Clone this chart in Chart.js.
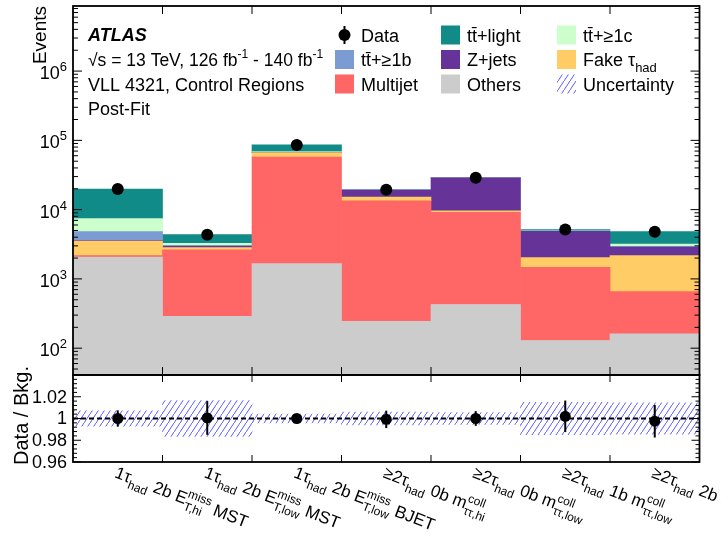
<!DOCTYPE html>
<html>
<head>
<meta charset="utf-8">
<script src="https://cdn.jsdelivr.net/npm/chart.js@4.4.1/dist/chart.umd.min.js"></script>
<style>
html, body { margin: 0; padding: 0; background: #fff; }
#wrap { position: relative; width: 721px; height: 536px; }
#wrap canvas { position: absolute; left: 0; top: 0; }
</style>
</head>
<body>
<div id="wrap">
<canvas id="mainChart" width="721" height="536"></canvas>
<canvas id="ratioChart" width="721" height="536"></canvas>
</div>
<script>
// control regions (bins)
const regions = [
	"1τ_{had} 2b E^{miss}_{T,hi} MST",
	"1τ_{had} 2b E^{miss}_{T,low} MST",
	"1τ_{had} 2b E^{miss}_{T,low} BJET",
	"≥2τ_{had} 0b m^{coll}_{ττ,hi}",
	"≥2τ_{had} 0b m^{coll}_{ττ,low}",
	"≥2τ_{had} 1b m^{coll}_{ττ,low}",
	"≥2τ_{had} 2b m^{coll}_{ττ,low}",
]

// post-fit background yields, bottom of the stack first
const others = [2060, 289, 1660, 245, 427, 129, 161]
const multijet = [110, 2350, 55600, 13150, 8700, 1340, 495]
const fakeTau = [1340, 190, 9400, 1800, 510, 560, 1510]
const zJets = [50, 120, 500, 4000, 19100, 2820, 720]
const ttB = [1250, 100, 800, 60, 40, 40, 60]
const ttC = [2590, 210, 800, 80, 40, 60, 240]
const ttLight = [12400, 1090, 17100, 100, 80, 220, 1620]

// data
const dataEvents = [19800, 4350, 85900, 19400, 28900, 5180, 4790]

// ratio panel
const ratioData = [1.0, 1.0005, 1.0, 0.9992, 1.0, 1.002, 0.9975]
const ratioErr = [0.0075, 0.0155, 0.002, 0.008, 0.0068, 0.0145, 0.015]
const bandErr = [0.007, 0.0165, 0.004, 0.006, 0.0055, 0.0148, 0.0145]

// axis ticks
const logExponents = [2, 3, 4, 5, 6]
const ratioTicks = [0.96, 0.98, 1, 1.02]
const ratioTickLabels = ["0.96", "0.98", "1", "1.02"]

const FONT = '"Liberation Sans", Arial, Helvetica, sans-serif'
Chart.defaults.font.family = FONT

// ---- little helpers for ROOT-like text with ^{} and _{} ----
function richTokens(s) {
	const out = []
	let buf = ""
	let i = 0
	while (i < s.length) {
		const c = s[i]
		if ((c === "^" || c === "_") && s[i + 1] === "{") {
			const end = s.indexOf("}", i)
			const tok = { t: s.slice(i + 2, end), m: c === "^" ? "sup" : "sub" }
			const prev = out[out.length - 1]
			if (!buf && prev && prev.m !== "n" && prev.m !== tok.m && !prev.pair) {
				prev.pair = tok
			} else {
				if (buf) {
					out.push({ t: buf, m: "n" })
					buf = ""
				}
				out.push(tok)
			}
			i = end + 1
		} else {
			buf += c
			i++
		}
	}
	if (buf) out.push({ t: buf, m: "n" })
	return out
}

function drawRich(ctx, s, x, y, size, style) {
	style = style || ""
	const small = Math.round(size * 0.7)
	let cx = x
	ctx.textAlign = "left"
	ctx.textBaseline = "alphabetic"
	for (const tk of richTokens(s)) {
		if (tk.m === "n") {
			ctx.font = `${style} ${size}px ${FONT}`
			ctx.fillText(tk.t, cx, y)
			cx += ctx.measureText(tk.t).width
		} else {
			ctx.font = `${style} ${small}px ${FONT}`
			let w = 0
			const parts = tk.pair ? [tk, tk.pair] : [tk]
			for (const p of parts) {
				const dy = p.m === "sup" ? -size * 0.45 : size * 0.33
				ctx.fillText(p.t, cx, y + dy)
				w = Math.max(w, ctx.measureText(p.t).width)
			}
			cx += w
		}
	}
	return cx - x
}

function makeHatch(canvas) {
	const c = document.createElement("canvas")
	c.width = 6
	c.height = 9
	const g = c.getContext("2d")
	g.strokeStyle = "#5a5aff"
	g.lineWidth = 1
	g.beginPath()
	g.moveTo(-1, 10.5)
	g.lineTo(7, -1.5)
	g.stroke()
	return canvas.getContext("2d").createPattern(c, "repeat")
}

function seg(ctx, x1, y1, x2, y2) {
	ctx.beginPath()
	ctx.moveTo(x1, y1)
	ctx.lineTo(x2, y2)
	ctx.stroke()
}

// bin edge ticks on top and bottom of a panel
function binEdgeTicks(ctx, x, a, len) {
	for (let i = 1; i < regions.length; i++) {
		const px = x.getPixelForValue(i - 0.5)
		seg(ctx, px, a.bottom, px, a.bottom - len)
		seg(ctx, px, a.top, px, a.top + len)
	}
}

const mainCanvas = document.getElementById("mainChart")
const ratioCanvas = document.getElementById("ratioChart")
const mainHatch = makeHatch(mainCanvas)
const ratioHatch = makeHatch(ratioCanvas)

// ---- main panel decorations: frame, ticks, labels, legend ----
const mainDecor = {
	id: "mainDecor",
	afterDraw(chart) {
		const { ctx, chartArea: a, scales: { x, y } } = chart
		ctx.save()
		ctx.strokeStyle = "#000"
		ctx.fillStyle = "#000"
		ctx.lineWidth = 1

		// log ticks, both sides
		for (let e = 1; e <= 7; e++) {
			for (let k = 1; k <= 9; k++) {
				const v = k * Math.pow(10, e)
				if (v < y.min || v > y.max) continue
				const py = y.getPixelForValue(v)
				const len = k === 1 ? 9 : 5
				seg(ctx, a.left, py, a.left + len, py)
				seg(ctx, a.right, py, a.right - len, py)
			}
		}
		binEdgeTicks(ctx, x, a, 8)

		ctx.lineWidth = 1.8
		ctx.strokeRect(a.left, a.top, a.right - a.left, a.bottom - a.top)

		// y tick labels 10^n
		logExponents.forEach(e => {
			const py = y.getPixelForValue(Math.pow(10, e))
			ctx.font = `18px ${FONT}`
			const w10 = ctx.measureText("10").width
			ctx.font = `13px ${FONT}`
			const we = ctx.measureText(String(e)).width
			const x0 = a.left - 6 - we - w10
			drawRich(ctx, `10^{${e}}`, x0, py + 8, 18)
		})

		// axis title
		ctx.save()
		ctx.translate(46, a.top)
		ctx.rotate(-Math.PI / 2)
		ctx.font = `19px ${FONT}`
		ctx.textAlign = "right"
		ctx.fillText("Events", 0, 0)
		ctx.restore()

		// ATLAS label block
		ctx.font = `italic bold 18px ${FONT}`
		ctx.textAlign = "left"
		ctx.fillText("ATLAS", 88, 41)
		drawRich(ctx, "√s = 13 TeV, 126 fb^{-1} - 140 fb^{-1}", 88, 66, 17.5)
		drawRich(ctx, "VLL 4321, Control Regions", 88, 90.5, 18)
		drawRich(ctx, "Post-Fit", 88, 115, 18)

		// legend: 3 columns x 3 rows
		const ds = chart.data.datasets
		const byLabel = l => ds.find(d => d.label === l)
		const grid = [
			["Data", "tt̄+light", "tt̄+≥1c"],
			["tt̄+≥1b", "Z+jets", "Fake τ_{had}"],
			["Multijet", "Others", "Uncertainty"],
		]
		const colX = [335, 441, 557]
		const rowY = [35, 59.5, 84]
		const box = 19
		grid.forEach((row, r) => {
			row.forEach((lab, c) => {
				const bx = colX[c]
				const cy = rowY[r]
				if (lab === "Data") {
					ctx.lineWidth = 2
					seg(ctx, bx + box / 2, cy - 9, bx + box / 2, cy + 9)
					ctx.beginPath()
					ctx.arc(bx + box / 2, cy, 6, 0, Math.PI * 2)
					ctx.fill()
				} else if (lab === "Uncertainty") {
					ctx.fillStyle = mainHatch
					ctx.fillRect(bx, cy - box / 2, box, box)
					ctx.fillStyle = "#000"
				} else {
					ctx.fillStyle = byLabel(lab).backgroundColor
					ctx.fillRect(bx, cy - box / 2, box, box)
					ctx.fillStyle = "#000"
				}
				drawRich(ctx, lab, bx + box + 7, cy + 6.5, 18)
			})
		})
		ctx.restore()
	},
}

const mainChart = new Chart(mainCanvas, {
	type: "bar",
	data: {
		labels: regions,
		datasets: [
			{
				type: "line",
				label: "Data",
				data: dataEvents,
				showLine: false,
				pointRadius: 6,
				pointBackgroundColor: "#000",
				pointBorderWidth: 0,
				stack: "data",
			},
			{ label: "Others", data: others, backgroundColor: "#cccccc", stack: "bkg" },
			{ label: "Multijet", data: multijet, backgroundColor: "#ff6666", stack: "bkg" },
			{ label: "Fake τ_{had}", data: fakeTau, backgroundColor: "#ffcc66", stack: "bkg" },
			{ label: "Z+jets", data: zJets, backgroundColor: "#663399", stack: "bkg" },
			{ label: "tt̄+≥1b", data: ttB, backgroundColor: "#7b9bd2", stack: "bkg" },
			{ label: "tt̄+≥1c", data: ttC, backgroundColor: "#ccffcc", stack: "bkg" },
			{ label: "tt̄+light", data: ttLight, backgroundColor: "#118b87", stack: "bkg" },
		],
	},
	options: {
		responsive: false,
		animation: false,
		events: [],
		layout: { padding: { left: 73, right: 21.5, top: 5, bottom: 161 } },
		datasets: { bar: { barPercentage: 1, categoryPercentage: 1, borderWidth: 0 } },
		plugins: { legend: { display: false }, tooltip: { enabled: false } },
		scales: {
			x: { display: false, stacked: true, offset: true },
			y: { type: "logarithmic", display: false, stacked: true, min: 41, max: 8.7e6 },
		},
	},
	plugins: [mainDecor],
})

// ---- ratio panel ----
const ratioDecor = {
	id: "ratioDecor",
	beforeDatasetDraw(chart, args) {
		if (args.index !== 0) return
		const { ctx, chartArea: a, scales: { x, y } } = chart
		ctx.save()
		ctx.strokeStyle = "#000"
		ctx.lineWidth = 2
		ctx.setLineDash([5, 3])
		const p1 = y.getPixelForValue(1)
		seg(ctx, a.left, p1, a.right, p1)
		ctx.setLineDash([])
		ratioData.forEach((v, i) => {
			const px = x.getPixelForValue(i)
			seg(ctx, px, y.getPixelForValue(v - ratioErr[i]), px, y.getPixelForValue(v + ratioErr[i]))
		})
		ctx.restore()
	},
	afterDraw(chart) {
		const { ctx, chartArea: a, scales: { x, y } } = chart
		ctx.save()
		ctx.strokeStyle = "#000"
		ctx.fillStyle = "#000"
		ctx.lineWidth = 1
		for (let k = 0; k <= 20; k++) {
			const v = 0.96 + k * 0.004
			const py = y.getPixelForValue(v)
			const len = k % 5 === 0 ? 8 : 4
			seg(ctx, a.left, py, a.left + len, py)
			seg(ctx, a.right, py, a.right - len, py)
		}
		binEdgeTicks(ctx, x, a, 7)
		ctx.lineWidth = 1.8
		ctx.strokeRect(a.left, a.top, a.right - a.left, a.bottom - a.top)

		// y tick labels
		ctx.font = `18px ${FONT}`
		ctx.textAlign = "right"
		ctx.textBaseline = "middle"
		ratioTicks.forEach((v, i) => {
			ctx.fillText(ratioTickLabels[i], a.left - 6, y.getPixelForValue(v) + 1)
		})

		// y title
		ctx.save()
		ctx.translate(28, (a.top + a.bottom) / 2 - 3)
		ctx.rotate(-Math.PI / 2)
		ctx.font = `20px ${FONT}`
		ctx.textAlign = "center"
		ctx.textBaseline = "alphabetic"
		ctx.fillText("Data / Bkg.", 0, 0)
		ctx.restore()

		// rotated bin labels
		chart.data.labels.forEach((lab, i) => {
			const px = x.getPixelForValue(i)
			ctx.save()
			ctx.translate(px + 1, a.bottom + 2)
			ctx.rotate((21 * Math.PI) / 180)
			drawRich(ctx, lab, 0, 14, 17)
			ctx.restore()
		})
		ctx.restore()
	},
}

const ratioChart = new Chart(ratioCanvas, {
	type: "bar",
	data: {
		labels: regions,
		datasets: [
			{
				type: "line",
				label: "Data / Bkg.",
				data: ratioData,
				showLine: false,
				pointRadius: 5.5,
				pointBackgroundColor: "#000",
				pointBorderWidth: 0,
			},
			{
				label: "Uncertainty",
				data: bandErr.map(u => [1 - u, 1 + u]),
				backgroundColor: ratioHatch,
				borderWidth: 0,
				barPercentage: 1,
				categoryPercentage: 1,
			},
		],
	},
	options: {
		responsive: false,
		animation: false,
		events: [],
		layout: { padding: { left: 73, right: 21.5, top: 375, bottom: 74 } },
		plugins: { legend: { display: false }, tooltip: { enabled: false } },
		scales: {
			x: { display: false, offset: true },
			y: { display: false, min: 0.96, max: 1.04 },
		},
	},
	plugins: [ratioDecor],
})
</script>
</body>
</html>
